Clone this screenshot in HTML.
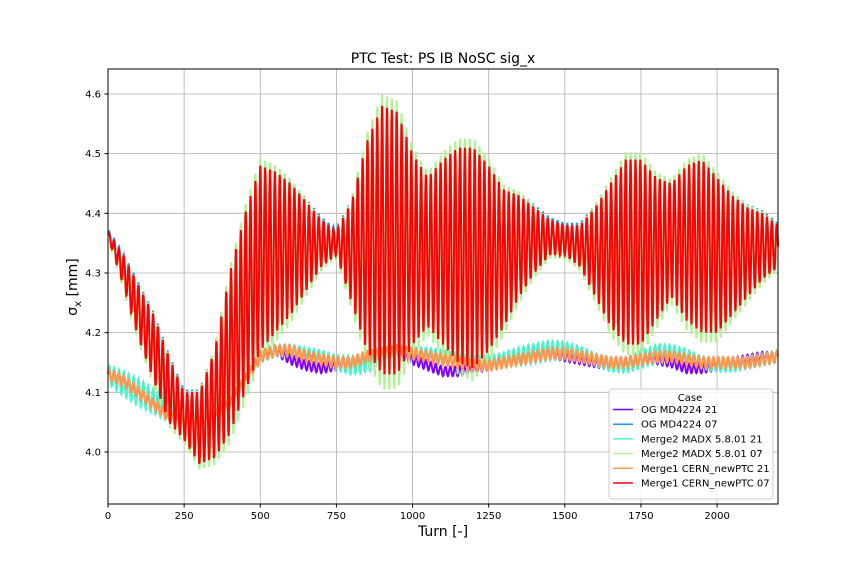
<!DOCTYPE html>
<html><head><meta charset="utf-8"><style>
body{margin:0;background:#fff;font-family:"Liberation Sans","DejaVu Sans",sans-serif}
svg text{font-family:"DejaVu Sans","Liberation Sans",sans-serif}
</style></head><body>
<svg id="c" width="864" height="576" xmlns="http://www.w3.org/2000/svg">
<rect width="864" height="576" fill="#fff"/>
<g id="grid"></g>
<g id="series"></g>
<rect x="108" y="69" width="670" height="435" fill="none" stroke="#000" stroke-width="1"/>
<g id="ticks"></g>
<text x="443" y="63" text-anchor="middle" font-size="14">PTC Test: PS IB NoSC sig_x</text>
<text x="443" y="536" text-anchor="middle" font-size="14">Turn [-]</text>
<text transform="translate(77,287) rotate(-90)" text-anchor="middle" font-size="14">σ<tspan font-size="10" dy="4">x</tspan><tspan dy="-4"> [mm]</tspan></text>
<g>
<rect x="609" y="389" width="164" height="110" rx="3" fill="#fff" fill-opacity="0.85" stroke="#ccc"/>
<text x="690" y="401" text-anchor="middle" font-size="10">Case</text>
<g id="leg"></g>
</g>
</svg>
<script>
const turns=[0,50,100,150,200,250,300,350,400,450,500,550,600,650,700,750,800,850,900,950,1000,1050,1100,1150,1200,1250,1300,1350,1400,1450,1500,1550,1600,1650,1700,1750,1800,1850,1900,1950,2000,2050,2100,2150,2200];
const redUpper=[4.37,4.33,4.28,4.23,4.16,4.10,4.10,4.17,4.30,4.40,4.48,4.47,4.45,4.42,4.39,4.37,4.42,4.52,4.58,4.57,4.50,4.46,4.49,4.51,4.51,4.48,4.44,4.43,4.41,4.39,4.38,4.38,4.41,4.45,4.49,4.49,4.46,4.45,4.48,4.49,4.46,4.43,4.41,4.40,4.38];
const redLower=[4.36,4.28,4.19,4.12,4.05,4.02,3.98,3.99,4.03,4.10,4.17,4.20,4.23,4.27,4.31,4.33,4.25,4.17,4.13,4.13,4.18,4.21,4.18,4.15,4.14,4.17,4.21,4.26,4.30,4.33,4.33,4.31,4.26,4.21,4.18,4.18,4.22,4.26,4.22,4.20,4.20,4.23,4.26,4.29,4.31];
const orangeMid=[4.13,4.12,4.10,4.08,4.06,4.05,4.05,4.06,4.08,4.12,4.16,4.17,4.17,4.16,4.155,4.15,4.15,4.16,4.165,4.17,4.165,4.16,4.155,4.15,4.145,4.145,4.15,4.155,4.16,4.165,4.165,4.16,4.155,4.15,4.15,4.155,4.16,4.16,4.155,4.15,4.15,4.15,4.15,4.155,4.16];
const purpleMid=[4.13,4.12,4.10,4.08,4.06,4.05,4.05,4.06,4.08,4.12,4.16,4.17,4.155,4.145,4.14,4.145,4.15,4.16,4.165,4.165,4.155,4.145,4.135,4.135,4.14,4.145,4.15,4.16,4.165,4.165,4.16,4.155,4.15,4.145,4.15,4.155,4.155,4.15,4.14,4.14,4.145,4.15,4.155,4.16,4.16];
const cyanMid=[4.13,4.115,4.10,4.085,4.07,4.06,4.06,4.065,4.085,4.12,4.16,4.17,4.17,4.165,4.16,4.15,4.145,4.15,4.155,4.165,4.165,4.165,4.16,4.155,4.15,4.15,4.155,4.16,4.165,4.17,4.17,4.165,4.155,4.145,4.145,4.155,4.165,4.165,4.16,4.15,4.145,4.145,4.15,4.155,4.16];
const cyanAmp=[0.015,0.02,0.022,0.02,0.018,0.015,0.012,0.01,0.01,0.01,0.01,0.01,0.01,0.01,0.01,0.012,0.015,0.015,0.012,0.01,0.01,0.01,0.01,0.01,0.01,0.01,0.012,0.015,0.016,0.016,0.014,0.012,0.01,0.01,0.012,0.014,0.015,0.014,0.012,0.01,0.01,0.01,0.01,0.01,0.01];
const xTicks=[0,250,500,750,1000,1250,1500,1750,2000];
const yTicks=[4.0,4.1,4.2,4.3,4.4,4.5,4.6];
const period=16;
const NS="http://www.w3.org/2000/svg";
const X=t=>108+t*(670/2200);
const Y=v=>452-(v-4.0)*596.7;
function interp(arr,t){let i=Math.min(Math.floor(t/50),turns.length-2);const f=(t-turns[i])/50;return arr[i]+(arr[i+1]-arr[i])*f;}
function mk(tag,attrs,parent){const e=document.createElementNS(NS,tag);for(const k in attrs)e.setAttribute(k,attrs[k]);parent.appendChild(e);return e;}
const grid=document.getElementById('grid'),ticks=document.getElementById('ticks');
xTicks.forEach(t=>{
 const l=mk('line',{x1:X(t),x2:X(t),y1:69,y2:504,stroke:'#b0b0b0','stroke-width':0.8},grid);
 
 
 mk('line',{x1:X(t),x2:X(t),y1:504,y2:507.5,stroke:'#000'},ticks);
 const tx=mk('text',{x:X(t),y:519,'text-anchor':'middle','font-size':10},ticks);tx.textContent=t;
 
 
});
yTicks.forEach(v=>{
 const l=mk('line',{x1:108,x2:778,y1:Y(v),y2:Y(v),stroke:'#b0b0b0','stroke-width':0.8},grid);
 
 
 mk('line',{x1:104.5,x2:108,y1:Y(v),y2:Y(v),stroke:'#000'},ticks);
 const tx=mk('text',{x:101,y:Y(v)+3.5,'text-anchor':'end','font-size':10},ticks);tx.textContent=v.toFixed(1);
 
 
});
function series(fn,color,w,name){
 let d='';for(let t=0;t<=2200;t++){const v=fn(t);d+=(t?'L':'M')+X(t).toFixed(1)+','+Y(v).toFixed(1);}
 const p=mk('path',{d:d,fill:'none',stroke:color,'stroke-width':w},document.getElementById('series'));
 
 
}
const s=t=>Math.sin(2*Math.PI*t/period);
const redFn=(k,off)=>t=>{const u=interp(redUpper,t),l=interp(redLower,t);const m=(u+l)/2,a=(u-l)/2*k;return m+a*s(t)+off;};
series(t=>interp(purpleMid,t)+0.008*s(t),'#8000ff',2,'series-og-md4224-21');
series(redFn(1.03,0.003),'#1996f3',2,'series-og-md4224-07');
series(t=>interp(cyanMid,t)+interp(cyanAmp,t)*s(t),'#4df3ce',2.2,'series-merge2-madx-21');
series(redFn(1.1,-0.003),'#b2f396',2.2,'series-merge2-madx-07');
series(t=>interp(orangeMid,t)+0.009*s(t),'#ff964f',2.2,'series-merge1-cern-21');
series(redFn(1.0,0),'#ff0000',2,'series-merge1-cern-07');
const legNames=['OG MD4224 21','OG MD4224 07','Merge2 MADX 5.8.01 21','Merge2 MADX 5.8.01 07','Merge1 CERN_newPTC 21','Merge1 CERN_newPTC 07'];
const legColors=['#8000ff','#1996f3','#4df3ce','#b2f396','#ff964f','#ff0000'];
const leg=document.getElementById('leg');
legNames.forEach((n,i)=>{
 const y=413+i*14.7;
 const g=mk('g',{},leg);
 
 
 mk('line',{x1:613,x2:633,y1:y-3.5,y2:y-3.5,stroke:legColors[i],'stroke-width':1.5},g);
 const t=mk('text',{x:641,y:y,'font-size':10},g);t.textContent=n;
});
</script>
</body></html>
